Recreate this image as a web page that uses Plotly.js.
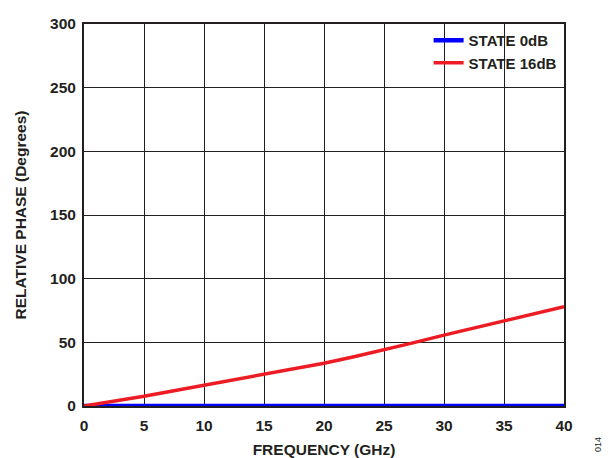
<!DOCTYPE html>
<html><head><meta charset="utf-8">
<script src="https://cdn.plot.ly/plotly-3.0.1.min.js"></script>
<style>body{margin:0;}#c{width:614px;height:458px;}</style>
</head><body><div id="c"></div>
<script>
const freq = [0, 2.5, 5, 7.5, 10, 12.5, 15, 17.5, 20, 22.5, 25, 27.5, 30, 32.5, 35, 37.5, 40];
const state0 = [0, 0, 0, 0, 0, 0, 0, 0, 0, 0, 0, 0, 0, 0, 0, 0, 0];
const state16 = [0, 3.6, 7.6, 12, 16.3, 20.4, 24.6, 29, 33.6, 38.7, 44, 49.8, 55.7, 61.3, 66.8, 72.2, 78];
const names = ["STATE 0dB", "STATE 16dB"];
const F = "Liberation Sans, Arial, sans-serif";
const C = "#231f20";
const data = [
  {x: freq, y: state0, name: names[0], mode: "lines", line: {color: "#0000ff", width: 4.5}, cliponaxis: false},
  {x: freq, y: state16, name: names[1], mode: "lines", line: {color: "#ed1c24", width: 3.5}, cliponaxis: false}
];
const axFont = {family: F, size: 15.5, weight: "bold", color: C};
const layout = {
  width: 614, height: 458,
  margin: {l: 84, r: 50, t: 24, b: 52},
  paper_bgcolor: "#fff", plot_bgcolor: "#fff",
  font: {family: F, color: C, size: 15},
  showlegend: true,
  legend: {x: 0.995, y: 1.0, xanchor: "right", yanchor: "top", bgcolor: "rgba(0,0,0,0)",
    font: {family: F, size: 15, weight: "bold", color: C}, tracegroupgap: 0, itemwidth: 30},
  xaxis: {range: [0, 40], tickvals: [0,5,10,15,20,25,30,35,40], showgrid: true, gridcolor: C, gridwidth: 1,
    showline: true, linecolor: C, linewidth: 2, mirror: true, zeroline: false, ticks: "", layer: "below traces",
    tickfont: axFont, ticklabelstandoff: 4,
    title: {text: "FREQUENCY (GHz)", font: axFont, standoff: 14}},
  yaxis: {range: [0, 300], tickvals: [0,50,100,150,200,250,300], showgrid: true, gridcolor: C, gridwidth: 1,
    showline: true, linecolor: C, linewidth: 2, mirror: true, zeroline: false, ticks: "", layer: "below traces",
    tickfont: axFont, ticklabelstandoff: 3,
    title: {text: "RELATIVE PHASE (Degrees)", font: axFont, standoff: 20}},
  annotations: [{text: "014", xref: "paper", yref: "paper", x: 1.085, y: -0.125, showarrow: false, textangle: -90,
    font: {family: F, size: 9, color: C}}]
};
Plotly.newPlot("c", data, layout, {displayModeBar: false});
</script></body></html>
